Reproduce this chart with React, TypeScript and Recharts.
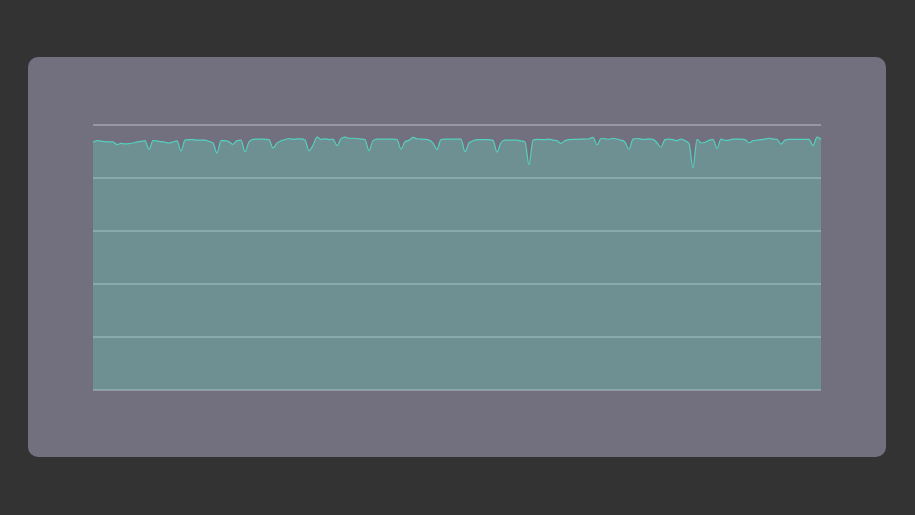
import React from "react";
import { AreaChart, Area, XAxis, YAxis, CartesianGrid } from "recharts";

const values: number[] = [
  93.5, 94.1, 93.9, 93.7, 93.6, 93.6, 92.6, 93.1, 92.9, 93.0,
  93.2, 93.6, 93.8, 94.1, 90.8, 94.1, 94.0, 93.7, 93.5, 93.2,
  93.6, 94.0, 90.2, 94.3, 94.5, 94.5, 94.3, 94.3, 94.3, 93.8,
  93.2, 89.4, 94.1, 94.1, 93.7, 92.7, 94.1, 94.3, 89.9, 93.6,
  94.6, 94.7, 94.7, 94.6, 94.5, 91.3, 93.2, 94.0, 94.5, 94.9,
  94.6, 94.8, 94.8, 94.3, 90.3, 92.3, 95.4, 94.6, 94.8, 94.5,
  94.7, 92.2, 94.8, 95.4, 95.0, 95.0, 94.9, 94.7, 94.5, 90.3,
  94.1, 94.7, 94.7, 94.7, 94.7, 94.7, 94.5, 90.9, 93.7, 94.2,
  95.3, 94.8, 94.7, 94.6, 94.3, 93.2, 90.8, 94.5, 94.7, 94.7,
  94.7, 94.7, 94.7, 89.9, 93.2, 94.0, 94.5, 94.5, 94.5, 94.5,
  94.2, 89.8, 93.3, 94.3, 94.3, 94.3, 94.3, 94.0, 93.7, 84.9,
  94.3, 94.6, 94.5, 94.5, 94.7, 94.3, 94.1, 93.1, 94.1, 94.5,
  94.6, 94.6, 94.7, 94.7, 94.8, 95.3, 92.5, 94.9, 94.8, 94.6,
  95.0, 94.7, 94.3, 93.5, 90.8, 94.7, 94.9, 94.7, 94.6, 94.8,
  94.6, 93.3, 91.6, 94.5, 94.7, 94.5, 94.1, 94.7, 94.1, 93.0,
  83.8, 94.6, 93.3, 93.5, 94.2, 94.6, 91.2, 94.7, 94.2, 94.3,
  94.7, 94.7, 94.7, 94.5, 93.3, 94.1, 94.3, 94.5, 94.7, 95.0,
  94.7, 94.6, 92.8, 94.3, 94.6, 94.6, 94.6, 94.6, 94.6, 94.6,
  92.2, 95.4, 94.6,
];

const yTicks: number[] = [0, 20, 40, 60, 80, 100];

const data = values.map((v, i) => ({ idx: i, value: v }));

export default function App() {
  return (
    <div
      style={{
        position: "fixed",
        left: 0,
        top: 0,
        width: 915,
        height: 515,
        background: "#333333",
      }}
    >
      <div
        style={{
          position: "absolute",
          left: 28,
          top: 57,
          width: 858,
          height: 400,
          borderRadius: 10,
          background: "#72707f",
        }}
      >
        <AreaChart
          width={858}
          height={400}
          data={data}
          margin={{ top: 68, right: 65, bottom: 67, left: 65 }}
        >
          <CartesianGrid
            vertical={false}
            stroke="#d4d8e0"
            strokeOpacity={0.75}
          />
          <XAxis dataKey="idx" hide />
          <YAxis hide domain={[0, 100]} ticks={yTicks} />
          <Area
            type="monotone"
            dataKey="value"
            stroke="#55d0bd"
            strokeWidth={1.2}
            fill="#66dcc4"
            fillOpacity={0.3}
            isAnimationActive={false}
            dot={false}
            activeDot={false}
          />
        </AreaChart>
      </div>
    </div>
  );
}
